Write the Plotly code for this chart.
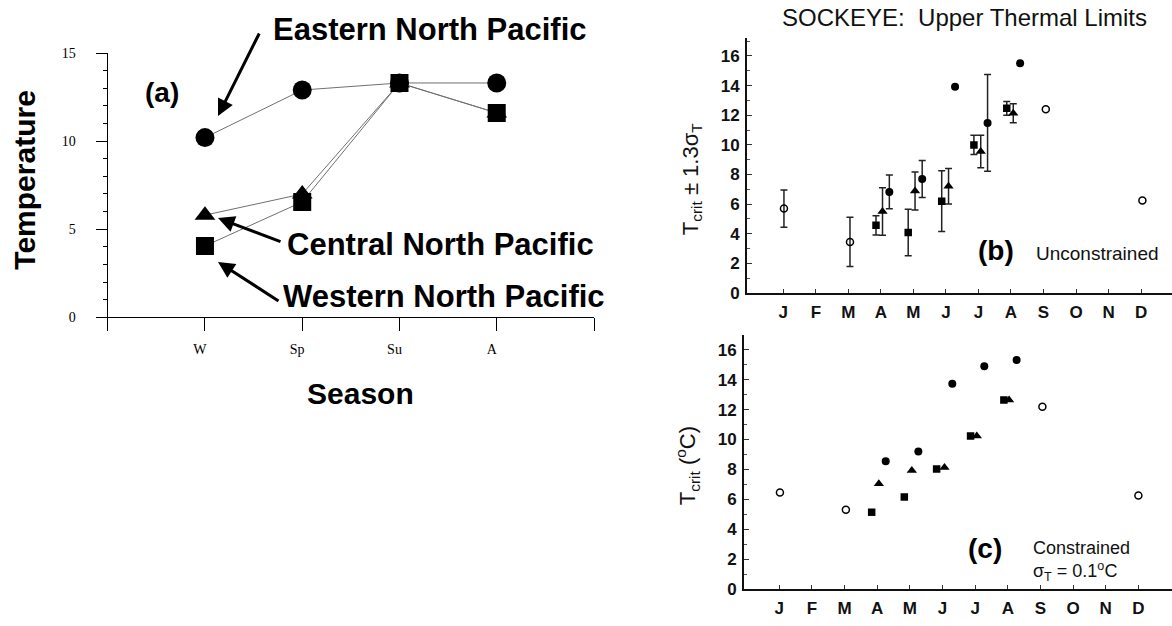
import plotly.graph_objects as go

# ---------------- Panel (a) data ----------------
seasons = ["W", "Sp", "Su", "A"]
season_pos = [1, 2, 3, 4]
eastern = [10.2, 12.9, 13.3, 13.3]
central = [5.8, 7.0, 13.3, 11.6]
western = [4.05, 6.55, 13.3, 11.6]

# ---------------- Panels (b), (c) ----------------
months = ["J", "F", "M", "A", "M", "J", "J", "A", "S", "O", "N", "D"]
month_pos = list(range(1, 13))

# (b) Unconstrained: T_crit and 1.3 sigma_T half-widths (0 = no bar)
b_open_x = [1.02, 3.05, 9.07, 12.04]
b_open_y = [5.7, 3.45, 12.4, 6.25]
b_open_err = [1.26, 1.66, 0, 0]
b_sq_x = [3.85, 4.84, 5.87, 6.86, 7.87]
b_sq_y = [4.57, 4.09, 6.2, 9.99, 12.46]
b_sq_err = [0.65, 1.57, 2.05, 0.65, 0.47]
b_tri_x = [4.05, 5.05, 6.08, 7.07, 8.07]
b_tri_y = [5.5, 6.88, 7.21, 9.55, 12.13]
b_tri_err = [1.6, 1.28, 1.2, 1.1, 0.64]
b_dot_x = [4.26, 5.27, 6.28, 7.28, 8.28]
b_dot_y = [6.82, 7.69, 13.92, 11.48, 15.5]
b_dot_err = [1.14, 1.25, 0, 3.27, 0]

# (c) Constrained
c_open_x = [1.02, 3.04, 9.06, 12.0]
c_open_y = [6.46, 5.31, 12.19, 6.25]
c_sq_x = [3.83, 4.83, 5.82, 6.86, 7.88]
c_sq_y = [5.14, 6.16, 8.03, 10.24, 12.65]
c_tri_x = [4.05, 5.06, 6.06, 7.05, 8.04]
c_tri_y = [7.05, 7.92, 8.13, 10.24, 12.65]
c_dot_x = [4.26, 5.26, 6.30, 7.28, 8.27]
c_dot_y = [8.55, 9.2, 13.73, 14.9, 15.31]

W, H = 1172, 626
def px(x):
    return x / W
def py(y):
    return 1 - y / H

SANS = "Liberation Sans, Arial, sans-serif"
SERIF = "Liberation Serif, Times New Roman, serif"

fig = go.Figure()

# ---- panel (a) ----
line_a = dict(color="#707070", width=1)
fig.add_trace(go.Scatter(x=season_pos, y=eastern, mode="lines+markers", line=line_a,
                         marker=dict(symbol="circle", size=19, color="black"),
                         xaxis="x", yaxis="y", showlegend=False))
fig.add_trace(go.Scatter(x=season_pos, y=central, mode="lines+markers", line=line_a,
                         marker=dict(symbol="triangle-up", size=18, color="black"),
                         xaxis="x", yaxis="y", showlegend=False))
fig.add_trace(go.Scatter(x=season_pos, y=western, mode="lines+markers", line=line_a,
                         marker=dict(symbol="square", size=18, color="black"),
                         xaxis="x", yaxis="y", showlegend=False))

# ---- panels (b) and (c) ----
def err_trace(xs, ys, es, xa, ya):
    sel = [i for i, e in enumerate(es) if e > 0]
    return go.Scatter(x=[xs[i] for i in sel], y=[ys[i] for i in sel], mode="markers",
                      marker=dict(size=1, opacity=0),
                      error_y=dict(type="data", array=[es[i] for i in sel], visible=True,
                                   color="#222", thickness=1.5, width=3.5),
                      xaxis=xa, yaxis=ya, showlegend=False, hoverinfo="skip")

open_m = dict(symbol="circle-open", size=7, color="black", line=dict(width=1.5, color="black"))
dot_m = dict(symbol="circle", size=8, color="black")
sq_m = dict(symbol="square", size=7.5, color="black")
tri_m = dict(symbol="triangle-up", size=9, color="black")

for xs, ys, es in [(b_open_x, b_open_y, b_open_err), (b_sq_x, b_sq_y, b_sq_err),
                   (b_tri_x, b_tri_y, b_tri_err), (b_dot_x, b_dot_y, b_dot_err)]:
    fig.add_trace(err_trace(xs, ys, es, "x2", "y2"))

for xs, ys, m, xa, ya in [
        (b_open_x, b_open_y, open_m, "x2", "y2"), (b_sq_x, b_sq_y, sq_m, "x2", "y2"),
        (b_tri_x, b_tri_y, tri_m, "x2", "y2"), (b_dot_x, b_dot_y, dot_m, "x2", "y2"),
        (c_open_x, c_open_y, open_m, "x3", "y3"), (c_sq_x, c_sq_y, sq_m, "x3", "y3"),
        (c_tri_x, c_tri_y, tri_m, "x3", "y3"), (c_dot_x, c_dot_y, dot_m, "x3", "y3")]:
    fig.add_trace(go.Scatter(x=xs, y=ys, mode="markers", marker=m,
                             xaxis=xa, yaxis=ya, showlegend=False))

# ---------------- axes ----------------
ax_common = dict(showgrid=False, zeroline=False, showline=True, linecolor="black")

xa_a = dict(ax_common, domain=[px(107.7), px(594)], range=[0, 5], anchor="y",
            linewidth=1.2, ticks="outside", ticklen=13, tickwidth=1.2, tickcolor="black",
            tickvals=season_pos, ticktext=seasons,
            tickfont=dict(family=SERIF, size=14, color="black"),
            ticklabelstandoff=6, ticklabelshift=-5,
            minor=dict(ticks="outside", dtick=1, ticklen=13, tickwidth=1.2, tickcolor="black"))
ya_a = dict(ax_common, domain=[py(319), py(47.3)], range=[0, 15], anchor="x",
            linewidth=1.2, ticks="outside", ticklen=11, tickwidth=1.2, tickcolor="black",
            tickvals=[0, 5, 10, 15],
            tickfont=dict(family=SERIF, size=14, color="black"),
            ticklabelstandoff=17,
            minor=dict(ticks="outside", dtick=1, ticklen=4, tickwidth=1, tickcolor="black"))

mfont = dict(family=SANS, size=17, color="#111", weight="bold")
xa_b = dict(ax_common, domain=[px(747), 1.0], range=[-0.116, 12.95], anchor="y2",
            linewidth=1.8, linecolor="#111", ticks="inside", ticklen=4, tickwidth=1.2,
            tickcolor="#333", tickvals=month_pos, ticktext=months, tickfont=mfont,
            ticklabelstandoff=3)
ya_b = dict(ax_common, domain=[py(294), py(32)], range=[0, 17.2], anchor="x2",
            linewidth=1.8, linecolor="#111", ticks="inside", ticklen=5, tickwidth=1.2,
            tickcolor="#333", tickvals=list(range(0, 17, 2)), tickfont=mfont,
            ticklabelstandoff=2,
            minor=dict(ticks="inside", dtick=1, ticklen=3, tickwidth=1, tickcolor="#555"))
xa_c = dict(xa_b, domain=[px(744), 1.0], range=[-0.081, 13.03], anchor="y3")
ya_c = dict(ya_b, domain=[py(598.3), py(337)], range=[0, 17.0], anchor="x3")

fig.update_layout(xaxis=xa_a, yaxis=ya_a, xaxis2=xa_b, yaxis2=ya_b,
                  xaxis3=xa_c, yaxis3=ya_c)

# ---------------- annotations ----------------
ann = []
def txt(x, y, text, size, bold=True, angle=0, xanchor="center", family=SANS, color="black"):
    ann.append(dict(x=px(x), y=py(y), xref="paper", yref="paper", text=text,
                    showarrow=False, textangle=angle, xanchor=xanchor, yanchor="middle",
                    align="left",
                    font=dict(family=family, size=size, color=color,
                              weight="bold" if bold else "normal")))

def arrow(hx, hy, tx, ty):
    ann.append(dict(x=px(hx), y=py(hy), xref="paper", yref="paper", text="",
                    showarrow=True, ax=tx - hx, ay=ty - hy, arrowhead=2, arrowsize=1.1,
                    arrowwidth=3, arrowcolor="black", standoff=0))

txt(25, 177.5, "Temperature", 30, angle=-90)
txt(360, 397, "Season", 30)
txt(161.5, 88, "(a)", 28)
txt(271, 23, "Eastern North Pacific", 31, xanchor="left")
txt(285, 244, "Central North Pacific", 31, xanchor="left")
txt(281, 297.5, "Western North Pacific", 31, xanchor="left")
arrow(218, 112, 260, 28)
arrow(218, 217, 282, 241)
arrow(218, 262, 280, 302)

txt(964, 11, "SOCKEYE:  Upper Thermal Limits", 24, bold=False, color="#111")
txt(692, 177, "T<sub>crit</sub> ± 1.3σ<sub>T</sub>", 22, bold=False, angle=-90, color="#111")
txt(687, 472, "T<sub>crit</sub> (<sup>o</sup>C)", 22, bold=False, angle=-90, color="#111")
txt(996, 250, "(b)", 28)
txt(1034, 253, "Unconstrained", 19, bold=False, xanchor="left", color="#111")
txt(985, 557, "(c)", 28)
txt(1031, 569, "Constrained<br>σ<sub>T</sub> = 0.1<sup>o</sup>C", 18, bold=False,
    xanchor="left", color="#111")

fig.update_layout(annotations=ann, width=W, height=H, autosize=False,
                  margin=dict(l=0, r=0, t=0, b=0),
                  paper_bgcolor="white", plot_bgcolor="white")

fig.write_html("out.html", config={"displayModeBar": False},
               post_script="document.body.style.margin='0';")
